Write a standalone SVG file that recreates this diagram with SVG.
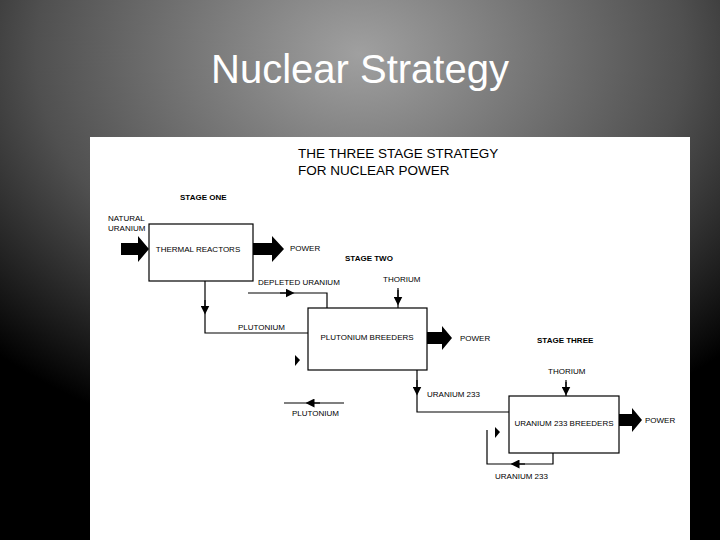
<svg xmlns="http://www.w3.org/2000/svg" width="720" height="540" viewBox="0 0 720 540">
<defs>
<radialGradient id="bg" cx="0.5" cy="0.1" r="0.75">
<stop offset="0" stop-color="#a0a0a0"/><stop offset="0.6" stop-color="#505050"/><stop offset="1" stop-color="#000"/>
</radialGradient>
<marker id="ah" viewBox="0 0 10 10" refX="5" refY="5" markerWidth="9" markerHeight="9" markerUnits="userSpaceOnUse" orient="auto"><path d="M0,0L10,5L0,10z" fill="#000"/></marker>
</defs>
<style>
text{font-family:"Liberation Sans",Arial,sans-serif;fill:#000;font-size:8px}
.b{font-weight:bold}
.box{fill:#fff;stroke:#000;stroke-width:1.2}
.ln{fill:none;stroke:#000;stroke-width:1.2}
.fat{fill:#000}
</style>
<rect width="720" height="540" fill="url(#bg)"/>
<text x="360" y="83" text-anchor="middle" style="font-size:40px;fill:#fff">Nuclear Strategy</text>
<rect x="90" y="137" width="600" height="403" fill="#fff"/>
<text x="298" y="158" style="font-size:13.5px">THE THREE STAGE STRATEGY</text>
<text x="298" y="175" style="font-size:13.5px">FOR NUCLEAR POWER</text>
<text x="180" y="200" class="b">STAGE ONE</text>
<text x="345" y="261" class="b">STAGE TWO</text>
<text x="537" y="343" class="b">STAGE THREE</text>
<g id="connectors">
<path class="ln" d="M205,281V333H308"/><path class="ln" d="M205,300V310" marker-end="url(#ah)"/>
<path class="ln" d="M248,293H327V308"/><path class="ln" d="M280,293H290" marker-end="url(#ah)"/>
<path class="ln" d="M398,288V308"/><path class="ln" d="M398,290V301" marker-end="url(#ah)"/>
<path class="ln" d="M417,370V412H509"/><path class="ln" d="M417,380V391" marker-end="url(#ah)"/>
<path class="ln" d="M284,403H344"/><path class="ln" d="M320,403H310" marker-end="url(#ah)"/>
<path class="ln" d="M566,380V396"/><path class="ln" d="M566,382V391" marker-end="url(#ah)"/>
<path class="ln" d="M553,453V464H487V430"/><path class="ln" d="M525,464H515" marker-end="url(#ah)"/>
<path class="fat" d="M121,243H138V236L149,249L138,262V255H121z"/>
<path class="fat" d="M253,243H272V236L284,249L272,262V255H253z"/>
<path class="fat" d="M427,332H442V326L452,338L442,350V344H427z"/>
<path class="fat" d="M618,414H632V408L642,420L632,432V426H618z"/>
<path class="fat" d="M295,355L300,360L295,366z"/>
<path class="fat" d="M495,427L500,432L495,438z"/>
</g>
<g id="thermal"><rect class="box" x="149" y="224" width="104" height="57"/><text x="198" y="252" text-anchor="middle">THERMAL REACTORS</text></g>
<g id="pu"><rect class="box" x="308" y="308" width="119" height="62"/><text x="367" y="340" text-anchor="middle">PLUTONIUM BREEDERS</text></g>
<g id="u233"><rect class="box" x="509" y="396" width="110" height="57"/><text x="564" y="426" text-anchor="middle">URANIUM 233 BREEDERS</text></g>
<g id="labels">
<text x="108" y="221">NATURAL</text><text x="108" y="231">URANIUM</text>
<text x="290" y="251">POWER</text>
<text x="258" y="285">DEPLETED URANIUM</text>
<text x="383" y="282">THORIUM</text>
<text x="238" y="330">PLUTONIUM</text>
<text x="460" y="341">POWER</text>
<text x="427" y="397">URANIUM 233</text>
<text x="292" y="416">PLUTONIUM</text>
<text x="548" y="374">THORIUM</text>
<text x="645" y="423">POWER</text>
<text x="495" y="479">URANIUM 233</text>
</g>
</svg>
